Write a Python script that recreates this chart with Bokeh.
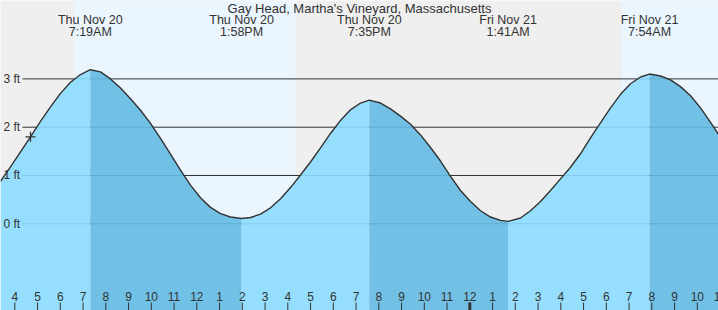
from bokeh.plotting import figure
from bokeh.models import BoxAnnotation, Range1d
from bokeh.core.properties import value
from bokeh.embed import file_html
from bokeh.resources import INLINE

# ---------------- data (hours since 00:00 Thu Nov 20, heights in ft) ----------------
title = "Gay Head, Martha's Vineyard, Massachusetts"

curve_times = [3.371, 3.811, 4.250, 4.690, 5.129, 5.569, 6.008, 6.448, 6.888,
               7.767, 8.206, 8.646, 9.085, 9.525, 9.964, 10.404, 10.844, 11.283,
               11.723, 12.162, 12.602, 13.042, 13.481,
               14.360, 14.800, 15.240, 15.679, 16.119, 16.558, 16.998, 17.437, 17.877,
               18.317, 18.756, 19.196,
               20.075, 20.514, 20.954, 21.394, 21.833, 22.273, 22.712, 23.152, 23.591,
               24.031, 24.471, 24.910, 25.350,
               26.229, 26.668, 27.108, 27.547, 27.987, 28.427, 28.866, 29.306, 29.745,
               30.185, 30.625, 31.064, 31.504,
               32.383, 32.822, 33.262, 33.702, 34.141, 34.581, 34.935]
curve_heights = [0.88, 1.18, 1.49, 1.80, 2.12, 2.42, 2.70, 2.93, 3.09,
                 3.145, 3.00, 2.81, 2.59, 2.35, 2.08, 1.77, 1.44, 1.11,
                 0.80, 0.54, 0.34, 0.21, 0.14,
                 0.13, 0.20, 0.33, 0.52, 0.75, 1.01, 1.28, 1.57, 1.87,
                 2.14, 2.36, 2.50,
                 2.50, 2.38, 2.23, 2.06, 1.84, 1.58, 1.30, 0.98, 0.69,
                 0.46, 0.27, 0.14, 0.07,
                 0.12, 0.27, 0.46, 0.69, 0.93, 1.17, 1.45, 1.78, 2.09,
                 2.40, 2.68, 2.90, 3.04,
                 3.06, 2.98, 2.84, 2.65, 2.40, 2.10, 1.85]

ext_times = [7.317, 13.967, 19.583, 25.683, 31.900]
ext_heights = [3.19, 0.11, 2.56, 0.05, 3.10]
ext_kind = ["high", "low", "high", "low", "high"]
ext_day = ["Thu Nov 20", "Thu Nov 20", "Thu Nov 20", "Fri Nov 21", "Fri Nov 21"]
ext_clock = ["7:19AM", "1:58PM", "7:35PM", "1:41AM", "7:54AM"]

sunrise = [6.62, 30.67]
sunset = [16.34, 40.30]

now_time = [4.690]
now_height = [1.80]

ft_levels = [0, 1, 2, 3]
ft_labels = ["0 ft", "1 ft", "2 ft", "3 ft"]

hour_ticks = list(range(4, 36))
hour_labels = ["4", "5", "6", "7", "8", "9", "10", "11", "12", "1", "2", "3", "4", "5",
               "6", "7", "8", "9", "10", "11", "12", "1", "2", "3", "4", "5", "6", "7",
               "8", "9", "10", "11"]
midnight = [24]

# ---------------- geometry ----------------
W, H = 718, 310
X0 = 3.371
X1 = X0 + W / 22.75
Y_BOT, Y_TOP = -1.795, 4.623


def xpx(px):
    return X0 + px * (X1 - X0) / W


def ypx(px):
    return Y_TOP - px * (Y_TOP - Y_BOT) / H


TXT = "#333333"
FONT = value("Liberation Sans")

p = figure(width=W, height=H, x_range=Range1d(X0, X1), y_range=Range1d(Y_BOT, Y_TOP),
           output_backend="svg", toolbar_location=None, min_border=0,
           x_axis_location=None, y_axis_location=None, outline_line_color=None,
           background_fill_color="#efefef", border_fill_color="#efefef")
p.grid.visible = False

for a, b in zip(sunrise, sunset):
    p.add_layout(BoxAnnotation(left=a, right=b, fill_color="#ebf5fe", fill_alpha=1.0,
                               line_color=None, level="underlay"))

# grid lines (under the semi-transparent water)
gx0 = xpx(22)
p.segment(x0=[gx0] * len(ft_levels), x1=[X1 + 1] * len(ft_levels), y0=ft_levels, y1=ft_levels,
          line_color="#333333", line_width=1)

# merge curve with extremes
pts = sorted(zip(curve_times + ext_times, curve_heights + ext_heights))
t_all = [a for a, _ in pts]
h_all = [b for _, b in pts]

bounds = [t_all[0]] + ext_times + [t_all[-1]]
for i in range(len(bounds) - 1):
    a, b = bounds[i], bounds[i + 1]
    seg = [(t, h) for t, h in pts if a <= t <= b]
    if i < len(ext_times):
        rising = ext_kind[i] == "high"
    else:
        rising = ext_kind[-1] == "low"
    color = "#8cdbfe" if rising else "#64bae3"
    p.varea(x=[s[0] for s in seg], y1=Y_BOT, y2=[s[1] for s in seg],
            fill_color=color, fill_alpha=0.9)

p.line(t_all, h_all, line_color="#333333", line_width=1.4, line_join="round")

p.scatter(now_time, now_height, marker="cross", size=10, line_color="#333333", line_width=1.3)

# y labels
p.text(x=[xpx(3)] * len(ft_levels), y=ft_levels, text=ft_labels, text_font=FONT,
       text_font_size="12px", text_color=TXT, text_align="left", text_baseline="middle")

# title and extreme labels
p.text(x=[(X0 + X1) / 2], y=[ypx(7.5)], text=[title], text_font=FONT, text_font_size="13px",
       text_color=TXT, text_align="center", text_baseline="middle")
p.text(x=ext_times, y=[ypx(19.5)] * len(ext_times), text=ext_day, text_font=FONT,
       text_font_size="12.5px", text_color=TXT, text_align="center", text_baseline="middle")
p.text(x=ext_times, y=[ypx(31.5)] * len(ext_times), text=ext_clock, text_font=FONT,
       text_font_size="12.5px", text_color=TXT, text_align="center", text_baseline="middle")

# hour ticks
p.segment(x0=hour_ticks, x1=hour_ticks, y0=[ypx(302)] * len(hour_ticks), y1=[Y_BOT] * len(hour_ticks),
          line_color="#333333", line_width=1)
p.segment(x0=midnight, x1=midnight, y0=[ypx(302)], y1=[Y_BOT], line_color="#333333", line_width=3)
p.text(x=hour_ticks, y=[ypx(296)] * len(hour_ticks), text=hour_labels, text_font=FONT,
       text_font_size="12px", text_color=TXT, text_align="center", text_baseline="middle")

open("out.html", "w").write(file_html(p, INLINE))
